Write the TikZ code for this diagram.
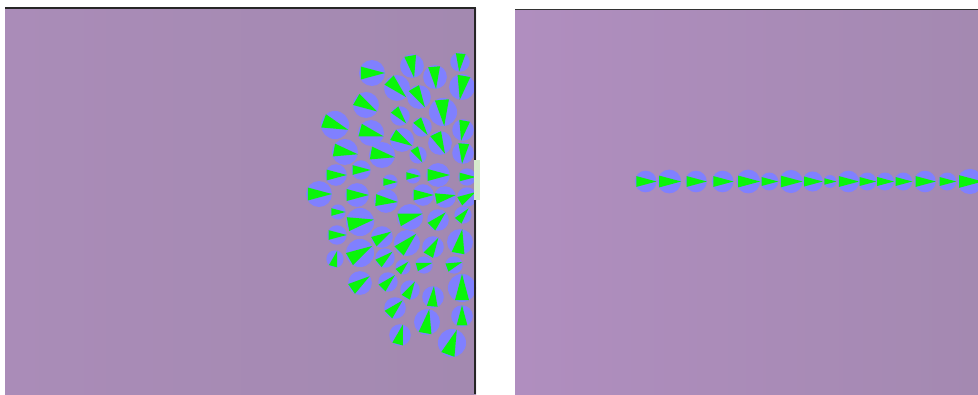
\documentclass[tikz,border=0pt]{standalone}
\usepackage{tikz}
\usetikzlibrary{calc}
\definecolor{arenapurple}{RGB}{167, 138, 181}
\definecolor{arenaleft}{RGB}{170, 140, 184}
\definecolor{arenaright}{RGB}{163, 137, 176}
\definecolor{arenalight}{RGB}{176, 142, 191}
\definecolor{arenadark}{RGB}{164, 137, 177}
\definecolor{bodyblue}{RGB}{128, 128, 255}
\definecolor{headgreen}{RGB}{10, 245, 10}
\definecolor{palegreen}{RGB}{214, 234, 204}

% one agent: x, y (pixels from the top), radius, heading
\newcommand{\agent}[4]{%
  \begin{scope}[shift={(#1,-#2)}, scale=1.08]
    \fill[bodyblue] (0,0) circle (#3);
    \fill[headgreen] ({#4}:#3) -- ({#4+150}:#3) -- ({#4+210}:#3) -- cycle;
  \end{scope}}

\begin{document}
\begin{tikzpicture}[x=1pt, y=1pt,
  frameline/.style={line width=1.6pt, black!85}
]
  \useasboundingbox (0,0) rectangle (978,-394);
  \fill[white] (0,0) rectangle (978,-394);

  % left arena
  \shade[left color=arenaleft, right color=arenaright] (5,-8) rectangle (476,-394);
  \foreach \x/\y/\r/\h in {
    372/73/12/0, 412/66/11/-80, 460/62/9/-95, 435/77/11/-85, 462/87/12/-100,
    397/88/12/-45, 366/105/12/-30, 419/97/11/-60, 443/112/13/-85, 400/116/9/-50,
    335/125/13/-20, 371/133/12/-15, 422/127/9/-55, 463/130/10/-100, 402/140/11/-30,
    345/152/12/-10, 382/155/12/-10, 440/143/11/-65, 418/155/8/-60, 463/153/10/-95,
    336/175/10/0, 361/170/9/0, 390/182/7/0, 413/176/7/0, 438/175/11/0, 467/177/8/0,
    319/194/12/0, 357/195/11/0, 386/201/11/-5, 423/195/10/0, 445/197/10/10, 467/197/9/30,
    338/212/7/0, 360/222/13/10, 410/217/12/15, 438/220/10/45, 463/215/8/50,
    337/235/9/0, 382/237/10/30, 407/243/12/45, 433/247/10/60, 460/242/12/80,
    335/259/8/75, 360/253/13/30, 385/258/9/40, 403/267/7/45, 424/265/8/15, 454/265/8/20,
    360/283/11/35, 388/282/9/45, 410/290/9/60, 433/297/10/85, 462/288/13/90,
    395/308/10/45, 427/322/12/80, 462/316/10/90, 400/335/10/75, 452/343/13/70}
    {\agent{\x}{\y}{\r}{\h}}
  \draw[frameline] (5,-8) -- (475,-8) -- (475,-394);
  \fill[palegreen] (474,-160) rectangle (480,-200);

  % right arena
  \shade[left color=arenalight, right color=arenadark] (515,-9) rectangle (978,-394);
  \foreach \x/\r in {645.7/10, 669.3/11, 696/10, 722.7/10, 748.3/11, 769.3/8.3,
    791/10.7, 812.7/9.3, 830/6, 848.3/10, 867.3/8.3, 885/8.3, 903.3/8.3,
    925/10, 947.3/8.3, 970/11.7}
    {\agent{\x}{181.5}{\r}{0}}
  \draw[line width=1pt, black!80] (515,-9) -- (978,-9);
\end{tikzpicture}
\end{document}
